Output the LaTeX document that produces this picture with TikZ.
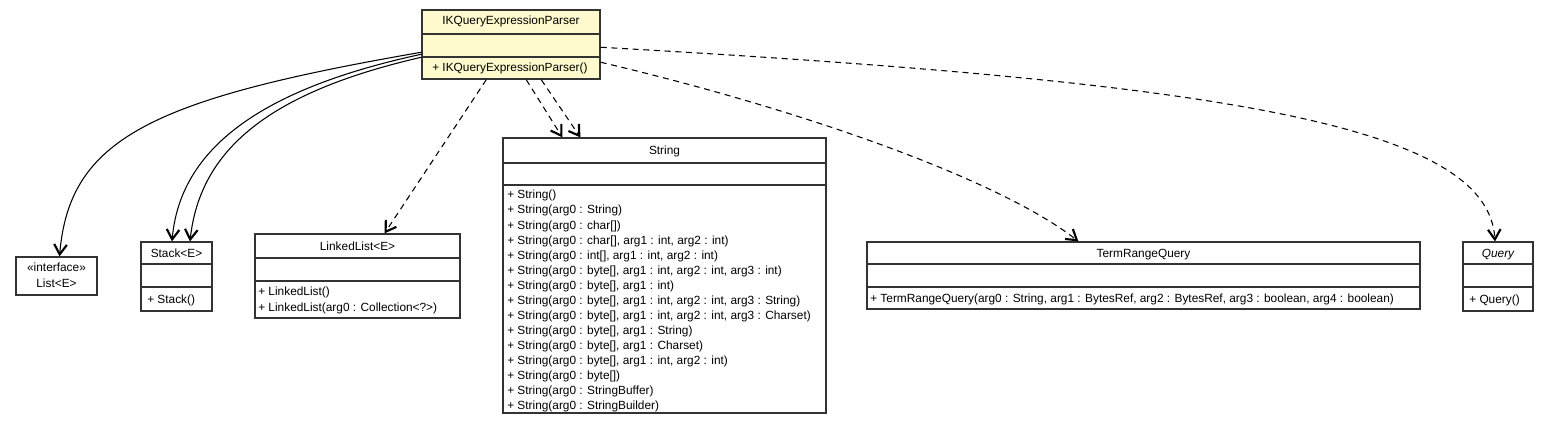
\documentclass[tikz,border=0pt]{standalone}
\usepackage{fontspec}
\setmainfont{Liberation Sans}
\usetikzlibrary{arrows.meta,fit,calc}
\definecolor{classfill}{RGB}{255,250,205}
\tikzset{
  classbox/.style={draw=black!80, line width=0.9pt, inner sep=0pt, fill=white},
  sep/.style={draw=black!80, line width=0.9pt},
  txt/.style={inner sep=0pt, anchor=base, font=\fontsize{8.9}{11.25}\selectfont},
  mtxt/.style={txt, anchor=base west},
  dep/.style={-{Straight Barb[length=7.5pt,width=9.5pt,line width=1.6pt]}, line width=0.8pt},
  usedep/.style={dep, dash pattern=on 4.5pt off 3.5pt},
}
\begin{document}
\begin{tikzpicture}[x=0.75pt,y=-0.75pt]
\useasboundingbox (0,0) rectangle (1549,424);

% classes
\node[classbox, fill=classfill, line width=1.1pt, fit={(422,10)(600,79)}] (parser) {};
\draw[sep, line width=1.1pt] (422,34) -- (600,34) (422,57) -- (600,57);
\node[txt] (parsername) at (511,25) {IKQueryExpressionParser};
\node[mtxt] (parserm) at (432,72) {+ IKQueryExpressionParser()};

\node[classbox, fit={(16,257)(97,295)}] (list) {};
\node[txt] (listst) at (56.5,271) {«interface»};
\node[txt] (listname) at (56.5,287) {List<E>};

\node[classbox, fit={(141,242)(212,311)}] (stack) {};
\draw[sep] (141,264) -- (212,264) (141,287) -- (212,287);
\node[txt] (stackname) at (176.5,257) {Stack<E>};
\node[mtxt] (stackm) at (147,303) {+ Stack()};

\node[classbox, fit={(255,234)(460,318)}] (linked) {};
\draw[sep] (255,258) -- (460,258) (255,281) -- (460,281);
\node[txt] (linkedname) at (357.5,250) {LinkedList<E>};
\node[mtxt] (linkedm1) at (258,295) {+ LinkedList()};
\node[mtxt] (linkedm2) at (258,311) {+ LinkedList(arg0 : Collection<?>)};

\node[classbox, fit={(503,138)(826,413)}] (string) {};
\draw[sep] (503,163) -- (826,163) (503,185) -- (826,185);
\node[txt] (stringname) at (664.5,155) {String};
\foreach \m [count=\i] in {{+ String()}, {+ String(arg0 : String)}, {+ String(arg0 : char[])},
  {+ String(arg0 : char[], arg1 : int, arg2 : int)}, {+ String(arg0 : int[], arg1 : int, arg2 : int)},
  {+ String(arg0 : byte[], arg1 : int, arg2 : int, arg3 : int)}, {+ String(arg0 : byte[], arg1 : int)},
  {+ String(arg0 : byte[], arg1 : int, arg2 : int, arg3 : String)},
  {+ String(arg0 : byte[], arg1 : int, arg2 : int, arg3 : Charset)},
  {+ String(arg0 : byte[], arg1 : String)}, {+ String(arg0 : byte[], arg1 : Charset)},
  {+ String(arg0 : byte[], arg1 : int, arg2 : int)}, {+ String(arg0 : byte[])},
  {+ String(arg0 : StringBuffer)}, {+ String(arg0 : StringBuilder)}}
  \node[mtxt] (stringm\i) at (507,184+15*\i) {\m};

\node[classbox, fit={(867,242)(1420,309)}] (term) {};
\draw[sep] (867,264) -- (1420,264) (867,287) -- (1420,287);
\node[txt] (termname) at (1143.5,257) {TermRangeQuery};
\node[mtxt] (termm) at (870,302) {+ TermRangeQuery(arg0 : String, arg1 : BytesRef, arg2 : BytesRef, arg3 : boolean, arg4 : boolean)};

\node[classbox, fit={(1463,242)(1533,311)}] (query) {};
\draw[sep] (1463,264) -- (1533,264) (1463,287) -- (1533,287);
\node[txt] (queryname) at (1498,257) {\itshape Query};
\node[mtxt] (querym) at (1469,303) {+ Query()};

% dependencies
\draw[dep] ($(parser.north west)+(0,43)$) .. controls +(-272,47) and +(10,-117) .. ($(list.north)+(3,0)$);
\draw[dep] ($(parser.north west)+(0,45)$) .. controls +(-162,35) and +(8,-92) .. ($(stack.north)+(-4.5,0)$);
\draw[dep] ($(parser.north west)+(0,48)$) .. controls +(-152,35) and +(10,-92) .. ($(stack.north)+(13.5,0)$);
\draw[usedep] ($(parser.south west)+(65,0)$) -- ($(linked.north)+(27,0)$);
\draw[usedep] ($(parser.south west)+(105,0)$) -- ($(string.north west)+(60,0)$);
\draw[usedep] ($(parser.south west)+(120,0)$) -- ($(string.north west)+(78,0)$);
\draw[usedep] ($(parser.north east)+(0,53)$) .. controls +(200,47) and +(-79,-62) .. ($(term.north west)+(212,0)$);
\draw[usedep] ($(parser.north east)+(0,38)$) .. controls +(620,35) and +(-7,-117) .. ($(query.north)+(-3,0)$);
\end{tikzpicture}
\end{document}
